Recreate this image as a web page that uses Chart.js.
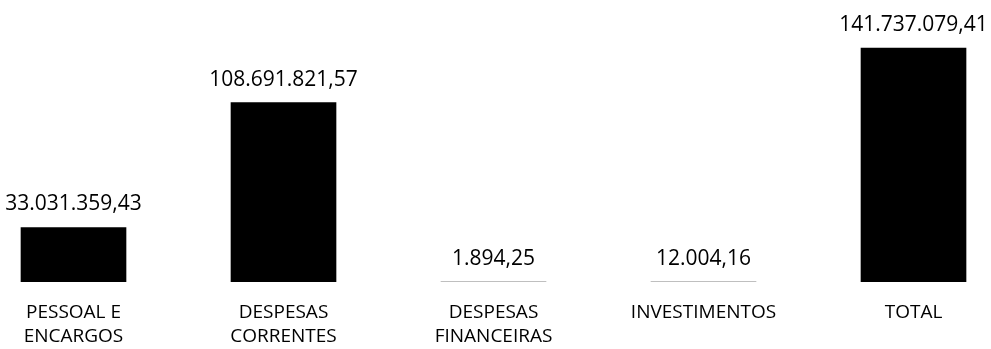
<!DOCTYPE html>
<html>
<head>
<meta charset="utf-8">
<script src="https://cdn.jsdelivr.net/npm/chart.js@4/dist/chart.umd.min.js"></script>
<style>
  html, body { margin: 0; padding: 0; background: #ffffff; }
  #wrap { width: 991px; height: 349px; position: relative; }
</style>
</head>
<body>
<div id="wrap"><canvas id="c"></canvas></div>
<script>
const categories = [
  ["PESSOAL E", "ENCARGOS"],
  ["DESPESAS", "CORRENTES"],
  ["DESPESAS", "FINANCEIRAS"],
  ["INVESTIMENTOS"],
  ["TOTAL"]
];
const values = [33031359.43, 108691821.57, 1894.25, 12004.16, 141737079.41];

function fmtBR(v) {
  const parts = v.toFixed(2).split(".");
  const intPart = parts[0].replace(/\B(?=(\d{3})+(?!\d))/g, ".");
  return intPart + "," + parts[1];
}

const valueLabels = {
  id: "valueLabels",
  afterDatasetsDraw(chart) {
    const ctx = chart.ctx;
    const meta = chart.getDatasetMeta(0);
    ctx.save();
    ctx.font = "21px 'Open Sans'";
    ctx.fillStyle = "#000000";
    ctx.textAlign = "center";
    ctx.textBaseline = "middle";
    meta.data.forEach((bar, i) => {
      ctx.fillText(fmtBR(values[i]), bar.x, bar.y - 23);
    });
    ctx.restore();
  }
};

new Chart(document.getElementById("c"), {
  type: "bar",
  data: {
    datasets: [{
      data: values.map((v, i) => ({ x: i, y: v })),
      backgroundColor: "#000000",
      borderWidth: 0,
      barThickness: 105
    }]
  },
  options: {
    responsive: true,
    maintainAspectRatio: false,
    animation: false,
    layout: { padding: { top: 18, left: 0, right: 0, bottom: 0 } },
    plugins: { legend: { display: false }, tooltip: { enabled: false } },
    scales: {
      x: {
        type: "linear",
        offset: false,
        min: -0.35,
        max: 4.369,
        grid: { display: false, drawTicks: false, offset: false },
        border: { display: false },
        afterFit: (scale) => { scale.height = 67; },
        ticks: {
          stepSize: 1,
          includeBounds: false,
          autoSkip: false,
          maxRotation: 0,
          padding: 19,
          color: "#000000",
          font: { family: "'Open Sans'", size: 19, lineHeight: 1.25 },
          callback: (v) => Number.isInteger(v) && categories[v] ? categories[v] : ""
        }
      },
      y: {
        display: false,
        min: 0,
        max: 160000000
      }
    }
  },
  plugins: [valueLabels]
});
</script>
</body>
</html>
